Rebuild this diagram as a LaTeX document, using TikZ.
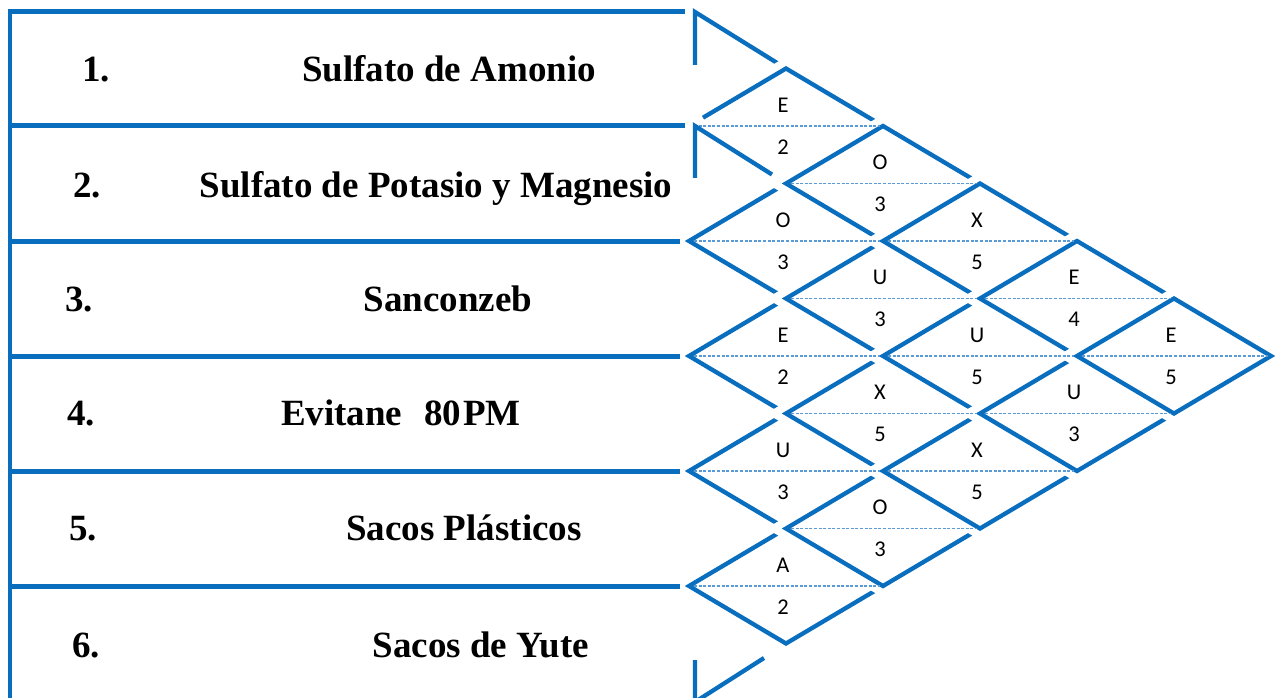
\documentclass[tikz,border=0pt]{standalone}
\usepackage{fontspec}
\setmainfont{Liberation Serif}
\newfontfamily\diafont{Carlito}
\definecolor{chartblue}{RGB}{10,110,190}
\definecolor{dotblue}{RGB}{91,155,213}
\begin{document}
\begin{tikzpicture}[x=1pt,y=-1pt,
  rowline/.style={chartblue, line width=5pt},
  leftline/.style={chartblue, line width=4pt},
  halo/.style={white, line width=20pt, line join=miter},
  edge/.style={chartblue, line width=4.3pt, line join=miter},
  midline/.style={dotblue, line width=1.6pt, dash pattern=on 3pt off 1.6pt},
  rowlabel/.style={font=\fontsize{37}{40}\selectfont\bfseries, anchor=base, inner sep=0pt},
  code/.style={font=\diafont\fontsize{22.5}{26}\selectfont, text=black, inner sep=0pt}
]
\useasboundingbox (0,0) rectangle (1280,698);

% row triangle fragments (rows 1 and 6)
\draw[edge] (695,65) -- (695,12) -- (782,66);
\draw[edge] (695,660) -- (695,702) -- (764,658);

% diamond 1-2 (its left corner merges with the row-2 triangle)
\coordinate (d12) at (786,126);
\draw[halo] (689,126) -- (786,68.5) -- (883,126) -- (786,183.5) -- cycle;
\draw[edge] (703,117.7) -- (786,68.5) -- (883,126) -- (786,183.5);

% other relationship diamonds, drawn column by column
\foreach \i/\j in {2/3, 3/4, 4/5, 5/6,
                   1/3, 2/4, 3/5, 4/6,
                   1/4, 2/5, 3/6,
                   1/5, 2/6,
                   1/6}{
  \pgfmathsetmacro\cx{689+97*(\j-\i)}
  \pgfmathsetmacro\cy{126+115*(\i-1)+57.5*(\j-\i-1)}
  \draw[halo] (\cx-97,\cy) -- (\cx,\cy-57.5) -- (\cx+97,\cy) -- (\cx,\cy+57.5) -- cycle;
  \draw[edge] (\cx-97,\cy) -- (\cx,\cy-57.5) -- (\cx+97,\cy) -- (\cx,\cy+57.5) -- cycle;
  \coordinate (d\i\j) at (\cx,\cy);
}

% dotted middle lines and codes
\foreach \i/\j/\L/\N in {1/2/E/2, 2/3/O/3, 3/4/E/2, 4/5/U/3, 5/6/A/2,
                         1/3/O/3, 2/4/U/3, 3/5/X/5, 4/6/O/3,
                         1/4/X/5, 2/5/U/5, 3/6/X/5,
                         1/5/E/4, 2/6/U/3,
                         1/6/E/5}{
  \draw[midline] ([xshift=5pt]d\i\j.center) ++(-97,0) -- ++(186,0);
  \node[code] (l\i\j) at ([xshift=-3pt,yshift=21pt]d\i\j) {\L};
  \node[code] (n\i\j) at ([xshift=-3pt,yshift=-21pt]d\i\j) {\N};
}

% table lines
\draw[leftline] (10,10) -- (10,700);
\draw[rowline] (8,12) -- (685,12);
\draw[rowline] (8,126) -- (685,126);
\draw[rowline] (8,241) -- (680,241);
\draw[rowline] (8,356) -- (680,356);
\draw[rowline] (8,471) -- (680,471);
\draw[rowline] (8,586) -- (680,586);

% row labels
\node[rowlabel] (n1) at (96,82) {1.};
\node[rowlabel] (t1) at (449,82) {Sulfato de Amonio};
\node[rowlabel] (n2) at (87,197) {2.};
\node[rowlabel] (t2) at (436,197) {Sulfato de Potasio y Magnesio};
\node[rowlabel] (n3) at (79,311) {3.};
\node[rowlabel] (t3) at (448,311) {Sanconzeb};
\node[rowlabel] (n4) at (81,425) {4.};
\node[rowlabel] (t4) at (401,425) {Evitane\hspace{22pt}80\kern2pt PM};
\node[rowlabel] (n5) at (83,540) {5.};
\node[rowlabel] (t5) at (464,540) {Sacos Plásticos};
\node[rowlabel] (n6) at (86,657) {6.};
\node[rowlabel] (t6) at (481,657) {Sacos de Yute};

% row 2 triangle fragment, drawn last
\draw[edge] (695,178) -- (695,126) -- (772,174.5);
\end{tikzpicture}
\end{document}
